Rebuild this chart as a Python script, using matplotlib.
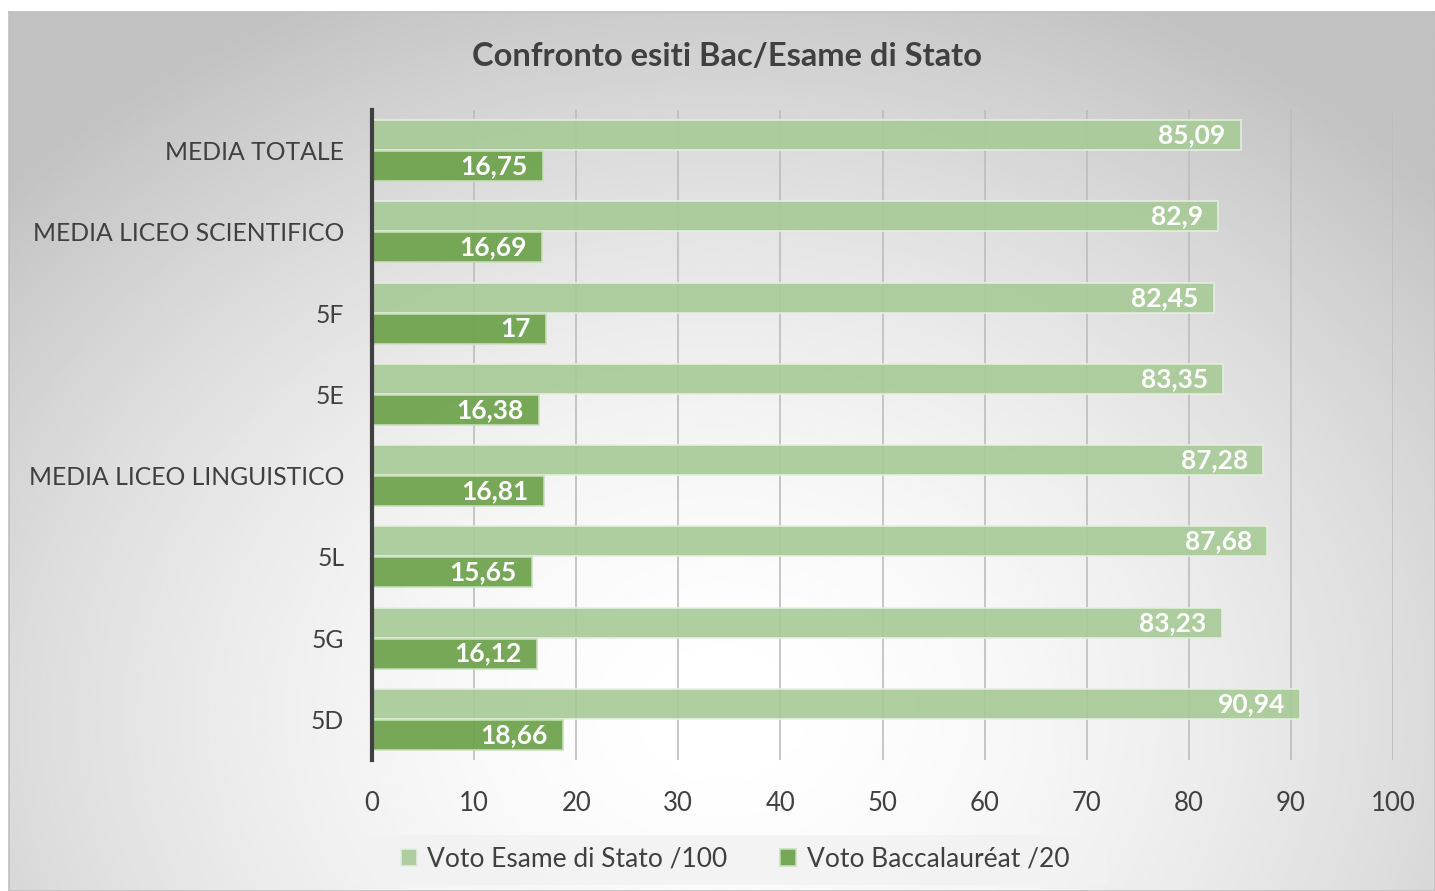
import numpy as np
import matplotlib.pyplot as plt
from matplotlib.patches import Rectangle

categories = ["MEDIA TOTALE", "MEDIA LICEO SCIENTIFICO", "5F", "5E",
              "MEDIA LICEO LINGUISTICO", "5L", "5G", "5D"]
esame_stato = [85.09, 82.9, 82.45, 83.35, 87.28, 87.68, 83.23, 90.94]
baccalaureat = [16.75, 16.69, 17, 16.38, 16.81, 15.65, 16.12, 18.66]
x_ticks = list(range(0, 101, 10))

plt.rcParams['font.family'] = ['Lato', 'DejaVu Sans']
text_col = '#404040'
light_green = '#A9CB98'
dark_green = '#70A44F'

W, H = 1435, 891
fig = plt.figure(figsize=(W / 100, H / 100), dpi=100)

# background panel with a soft radial gradient
bg = fig.add_axes([9 / W, 0, 1 - 9 / W, 1 - 12 / H], zorder=-1)
yy, xx = np.mgrid[0:1:300j, 0:1:500j]
dist = np.sqrt(((xx - 0.5) * 1.25) ** 2 + ((yy - 0.2) * 0.95) ** 2)
shade = 1 - 0.24 * np.clip(dist / 0.85, 0, 1) ** 1.7
bg.imshow(shade, cmap='gray', vmin=0, vmax=1, origin='lower',
          extent=[0, 1, 0, 1], aspect='auto', interpolation='bilinear')
bg.set_xlim(0, 1)
bg.set_ylim(0, 1)
bg.set_xticks([])
bg.set_yticks([])
for s in bg.spines.values():
    s.set_color('#BFBFBF')
    s.set_linewidth(1.2)

ax = fig.add_axes([372 / W, 131 / H, 1021 / W, 650 / H])
ax.set_facecolor('none')

y = np.arange(len(categories))
h = 0.37
b1 = ax.barh(y - 0.19, esame_stato, height=h, color=light_green, alpha=0.92,
             edgecolor='#E6F0DF', linewidth=1.2, zorder=3,
             label='Voto Esame di Stato /100')
b2 = ax.barh(y + 0.19, baccalaureat, height=h, color=dark_green, alpha=0.95,
             edgecolor='#C9DFBC', linewidth=1.2, zorder=3,
             label='Voto Baccalauréat /20')

for bars, vals in ((b1, esame_stato), (b2, baccalaureat)):
    for bar, v in zip(bars, vals):
        txt = f"{v:g}".replace('.', ',')
        ax.annotate(txt, (v, bar.get_y() + bar.get_height() / 2),
                    xytext=(-11, 0), textcoords='offset points',
                    ha='right', va='center', color='white',
                    fontsize=19, fontweight='bold', zorder=4)

ax.set_xlim(0, 100)
ax.set_ylim(len(categories) - 0.5, -0.5)
ax.set_xticks(x_ticks)
ax.set_yticks(y)
ax.set_yticklabels(categories)
ax.tick_params(axis='both', length=0, labelsize=17.8, colors=text_col)
ax.tick_params(axis='x', labelsize=18.5, pad=22)
ax.tick_params(axis='y', pad=20)
ax.grid(axis='x', color='#BDBDBD', linewidth=1.2, zorder=0)
for side in ('top', 'right', 'bottom'):
    ax.spines[side].set_visible(False)
ax.spines['left'].set_color(text_col)
ax.spines['left'].set_linewidth(3)
ax.spines['left'].set_zorder(5)

fig.text(727 / W, 1 - 56 / H, 'Confronto esiti Bac/Esame di Stato', ha='center',
         va='center', fontsize=23.5, fontweight='bold', color=text_col)

# legend panel
fig.patches.append(Rectangle((347 / W, 1 - 885 / H), 760 / W, 50 / H,
                             transform=fig.transFigure, facecolor='#F2F2F2',
                             edgecolor='none', alpha=0.85, zorder=0))
leg = fig.legend(loc='center', bbox_to_anchor=(735 / W, 1 - 859 / H),
                 ncol=2, frameon=False, fontsize=19, handlelength=0.6,
                 handleheight=0.6, handletextpad=0.4, columnspacing=2.0)
for t in leg.get_texts():
    t.set_color(text_col)

fig.savefig('out.png', dpi=100)
